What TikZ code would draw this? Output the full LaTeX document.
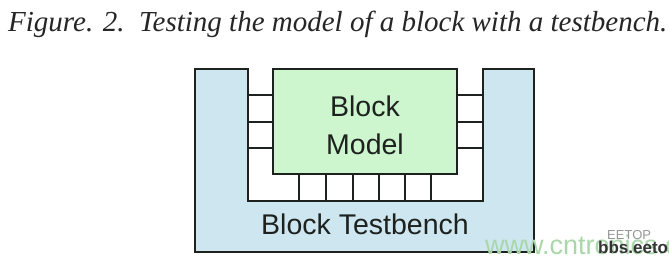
\documentclass[tikz,border=0pt]{standalone}
\usepackage{fontspec}
\setmainfont{Liberation Serif}
\newfontfamily\arialf{Liberation Sans}
\definecolor{tbblue}{RGB}{205,230,240}
\definecolor{mdgreen}{RGB}{206,246,206}
\definecolor{inkc}{RGB}{30,34,30}
\definecolor{wmgreen}{RGB}{170,215,170}
\definecolor{wmgray}{RGB}{150,150,150}
\tikzset{
  outline/.style={draw=inkc, line width=1.3pt},
  lbl/.style={font=\arialf\fontsize{28.5}{30}\selectfont, text=inkc, inner sep=0pt, anchor=base},
  port/.style={draw=inkc, line width=1.3pt}
}
\begin{document}
\begin{tikzpicture}[x=1pt,y=-1pt]
\useasboundingbox (0,0) rectangle (669,261);
\clip (0,0) rectangle (669,261);
\fill[white] (0,0) rectangle (669,261);
% caption
\node[anchor=base west, inner sep=0pt, font=\itshape\fontsize{29}{30}\selectfont, text=black!85] (cap) at (8,32) {Figure. 2.\ \ Testing the model of a block with a testbench.};
% testbench
\coordinate (tb1) at (195,69);
\coordinate (tb2) at (248,69);
\coordinate (tb3) at (248,201);
\coordinate (tb4) at (483,201);
\coordinate (tb5) at (483,69);
\coordinate (tb6) at (534,69);
\coordinate (tb7) at (534,252);
\coordinate (tb8) at (195,252);
\filldraw[outline, fill=tbblue] (tb1) -- (tb2) -- (tb3) -- (tb4) -- (tb5) -- (tb6) -- (tb7) -- (tb8) -- cycle;
% model
\node[outline, fill=mdgreen, minimum width=184pt, minimum height=105pt, inner sep=0pt] (model) at (365,121.5) {};
% ports
\foreach \yy in {95,122,148} {
  \draw[port] (248,\yy) -- (model.west |- 0,\yy);
  \draw[port] (model.east |- 0,\yy) -- (483,\yy);
}
\foreach \xx in {299,326,353,379,405,431} {
  \draw[port] (model.south -| \xx,0) -- (\xx,201);
}
% labels
\node[lbl] (lblock) at (365,117) {Block};
\node[lbl] (lmodel) at (365,155) {Model};
\node[lbl] (ltb) at (365,235) {Block Testbench};
% watermarks
\node[anchor=base west, inner sep=0pt, font=\arialf\fontsize{27}{30}\selectfont, text=wmgreen] (wm1) at (485,255) {www.cntronics.com};
\node[anchor=base west, inner sep=0pt, font=\arialf\fontsize{13}{16}\selectfont, text=wmgray] (wm2) at (607,240) {EETOP};
\node[anchor=base west, inner sep=0pt, font=\arialf\bfseries\fontsize{17}{18}\selectfont, text=black!80] (wm3) at (598,254) {bbs.eetop.com};
\end{tikzpicture}
\end{document}
